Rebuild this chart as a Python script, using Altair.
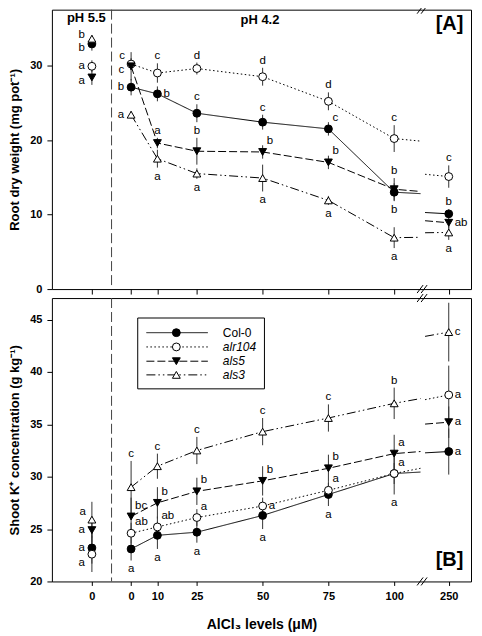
import altair as alt
import pandas as pd

# ---------------- data ----------------
series = ["Col-0", "alr104", "als5", "als3"]
ph_values = [5.5, 4.2, 4.2, 4.2, 4.2, 4.2, 4.2, 4.2]
al_levels = [0, 0, 10, 25, 50, 75, 100, 250]
x_tick_labels = ["0", "0", "10", "25", "50", "75", "100", "250"]

# Panel A: root dry weight (mg pot-1)
root_col0 = [32.9, 27.1, 26.2, 23.6, 22.4, 21.5, 13.0, 10.1]
root_alr104 = [29.9, 30.2, 29.0, 29.6, 28.5, 25.2, 20.2, 15.1]
root_als5 = [28.4, 29.9, 19.6, 18.5, 18.4, 17.0, 13.4, 8.9]
root_als3 = [33.6, 23.4, 17.5, 15.5, 14.9, 11.9, 6.9, 7.6]
root_col0_se = [0.9, 1.1, 1.0, 1.2, 1.0, 0.9, 1.2, 0.6]
root_alr104_se = [0.8, 0.8, 1.3, 0.8, 1.2, 1.2, 1.8, 1.5]
root_als5_se = [1.0, 1.9, 0.7, 1.8, 0.9, 0.9, 1.5, 0.8]
root_als3_se = [0.5, 0.5, 1.2, 0.7, 1.8, 0.6, 1.4, 1.0]
root_col0_sig = ["b", "b", "b", "c", "c", "c", "b", "b"]
root_alr104_sig = ["a", "c", "c", "d", "d", "d", "c", "c"]
root_als5_sig = ["a", "c", "a", "b", "b", "b", "b", "ab"]
root_als3_sig = ["b", "a", "a", "a", "a", "a", "a", "a"]

# Panel B: shoot K+ concentration (g kg-1)
k_col0 = [23.2, 23.1, 24.4, 24.7, 26.3, 28.3, 30.3, 32.4]
k_alr104 = [22.6, 24.6, 25.2, 26.1, 27.2, 28.7, 30.3, 37.8]
k_als5 = [24.9, 26.2, 27.5, 28.6, 29.6, 30.8, 32.2, 35.2]
k_als3 = [25.9, 29.0, 31.0, 32.5, 34.3, 35.6, 37.0, 43.8]
k_col0_se = [1.5, 1.1, 1.3, 1.0, 1.3, 1.1, 2.0, 2.2]
k_alr104_se = [1.7, 1.0, 1.0, 0.8, 0.8, 0.8, 1.0, 2.8]
k_als5_se = [1.2, 1.8, 1.5, 1.3, 1.4, 1.3, 1.8, 1.5]
k_als3_se = [1.7, 2.5, 1.2, 1.3, 1.3, 1.3, 1.5, 2.8]
k_col0_sig = ["a", "a", "a", "a", "a", "a", "a", "a"]
k_alr104_sig = ["a", "ab", "ab", "a", "a", "a", "a", "a"]
k_als5_sig = ["a", "bc", "b", "b", "b", "b", "a", "a"]
k_als3_sig = ["a", "c", "c", "c", "c", "c", "b", "c"]

# where each significance letter sits relative to its point
root_col0_at = ["left_lo", "left", "right", "above", "above", "upright", "below", "above"]
root_alr104_at = ["left", "upleft", "above", "above", "above", "above", "above", "above"]
root_als5_at = ["left_lo", "left_lo", "above", "above", "upright", "upright", "above", "right"]
root_als3_at = ["left_hi", "left", "below", "below", "below", "below", "below", "below"]
k_col0_at = ["left", "below", "below", "below", "below", "below", "below", "right"]
k_alr104_at = ["downleft", "upright", "upright", "upright", "right", "upright", "upright", "right"]
k_als5_at = ["left", "upright", "upright", "upright", "upright", "upright", "upright", "right"]
k_als3_at = ["upleft", "above", "above", "above", "above", "above", "above", "right"]

# ---------------- broken axis helpers ----------------
PH55_POS = -14.9
SEP_POS = -7.43
BREAK_LO = 110.0
BREAK_HI = 241.0
BREAK_SHIFT = 129.26
X_DOMAIN = [-30.1, 129.2]


def to_pos(ph, al):
    if ph == 5.5:
        return PH55_POS
    if al <= BREAK_LO:
        return al
    return al - BREAK_SHIFT


def points_df(means, errs, sigs, places):
    rows = []
    for s in series:
        for i, (ph, al) in enumerate(zip(ph_values, al_levels)):
            m, e = means[s][i], errs[s][i]
            rows.append(dict(series=s, pos=to_pos(ph, al), mean=m, lo=m - e,
                             hi=m + e, sig=sigs[s][i], place=places[s][i]))
    return pd.DataFrame(rows)


def lines_df(means):
    rows = []
    for s in series:
        pts = [(al, v) for ph, al, v in zip(ph_values, al_levels, means[s]) if ph == 4.2]
        left = [(a, v) for a, v in pts if a <= BREAK_LO]
        right = [(a, v) for a, v in pts if a >= BREAK_HI]
        (a0, v0), (a1, v1) = left[-1], right[0]

        def f(a):
            return v0 + (v1 - v0) * (a - a0) / (a1 - a0)

        seg1 = left + [(BREAK_LO, f(BREAK_LO))]
        seg2 = [(BREAK_HI, f(BREAK_HI))] + right
        for k, (a, v) in enumerate(seg1):
            rows.append(dict(series=s, seg=s + "1", order=k, pos=a, mean=v))
        for k, (a, v) in enumerate(seg2):
            rows.append(dict(series=s, seg=s + "2", order=k, pos=a - BREAK_SHIFT, mean=v))
    return pd.DataFrame(rows)


dash_range = [[1, 0], [1.5, 2.5], [8, 3], [9, 3, 1.5, 3, 1.5, 3]]
shape_range = ["circle", "circle", "triangle-down", "triangle-up"]
fill_range = ["black", "white", "black", "white"]

FONT = "Liberation Sans"

tick_vals = [to_pos(ph, al) for ph, al in zip(ph_values, al_levels)]
expr = "''"
for v, lab in zip(reversed(tick_vals), reversed(x_tick_labels)):
    expr = f"abs(datum.value - ({v})) < 0.01 ? '{lab}' : ({expr})"

placements = {
    "above": ("hi", 0, -7, "center"),
    "below": ("lo", 0, 9, "center"),
    "left": ("mean", -7, 0, "right"),
    "left_hi": ("mean", -7, -4, "right"),
    "left_lo": ("mean", -7, 4, "right"),
    "right": ("mean", 6, 0, "left"),
    "upright": ("mean", 4, -11, "left"),
    "upleft": ("mean", -6, -8, "right"),
    "downleft": ("mean", -7, 9, "right"),
}


def one(text):
    return alt.Chart(pd.DataFrame({"label": [text]}))


def panel(pdf, ldf, ydomain, yticks, ytitle, height, xaxis, tag, tag_y, extra):
    xs = alt.Scale(domain=X_DOMAIN, nice=False, zero=False)
    ys = alt.Scale(domain=ydomain, nice=False, zero=False)
    x_enc = alt.X("pos:Q", scale=xs, axis=xaxis)
    y_enc = alt.Y("mean:Q", scale=ys,
                  axis=alt.Axis(values=yticks, title=ytitle, titlePadding=8,
                                labelPadding=5))
    base = alt.Chart(pdf)
    frame = base.mark_point(opacity=0).encode(x=x_enc, y=y_enc)
    sep = alt.Chart(pd.DataFrame({"p": [SEP_POS]})).mark_rule(
        strokeDash=[10, 4], color="#444", strokeWidth=1).encode(
        x=alt.X("p:Q", scale=xs))
    err = base.mark_rule(color="#333", strokeWidth=1).encode(
        x=alt.X("pos:Q", scale=xs), y=alt.Y("lo:Q", scale=ys), y2="hi:Q")
    lines = alt.Chart(ldf).mark_line(color="black", strokeWidth=1).encode(
        x=alt.X("pos:Q", scale=xs), y=alt.Y("mean:Q", scale=ys),
        detail="seg:N", order="order:Q",
        strokeDash=alt.StrokeDash("series:N", scale=alt.Scale(domain=series, range=dash_range),
                                  legend=None))
    pts = base.mark_point(filled=True, stroke="black", strokeWidth=1, size=62, opacity=1).encode(
        x=alt.X("pos:Q", scale=xs), y=alt.Y("mean:Q", scale=ys),
        shape=alt.Shape("series:N", scale=alt.Scale(domain=series, range=shape_range), legend=None),
        fill=alt.Fill("series:N", scale=alt.Scale(domain=series, range=fill_range), legend=None))
    texts = []
    for name, (yf, dx, dy, al) in placements.items():
        texts.append(base.transform_filter(alt.datum.place == name).mark_text(
            font=FONT, fontSize=11.5, dx=dx, dy=dy, align=al, baseline="middle",
            fill="black").encode(
            x=alt.X("pos:Q", scale=xs), y=alt.Y(f"{yf}:Q", scale=ys), text="sig:N"))
    tag_t = one(tag).mark_text(font=FONT, fontSize=20, fontWeight="bold", align="center",
                               baseline="middle").encode(
        x=alt.value(398.5), y=alt.value(tag_y), text="label:N")
    # break marks "//" on top and bottom frame
    brk = []
    for yb in [0, height]:
        for x0 in [366, 370]:
            brk.append(one("").mark_rule(color="black", strokeWidth=1).encode(
                x=alt.value(x0), x2=alt.value(x0 + 6), y=alt.value(yb + 4), y2=alt.value(yb - 4)))
    layers = [frame, sep, err, lines, pts] + texts + [tag_t] + brk + extra
    return alt.layer(*layers).properties(width=420, height=height)


def mk(vals):
    return dict(zip(series, vals))


dfA = points_df(mk([root_col0, root_alr104, root_als5, root_als3]),
                mk([root_col0_se, root_alr104_se, root_als5_se, root_als3_se]),
                mk([root_col0_sig, root_alr104_sig, root_als5_sig, root_als3_sig]),
                mk([root_col0_at, root_alr104_at, root_als5_at, root_als3_at]))
lnA = lines_df(mk([root_col0, root_alr104, root_als5, root_als3]))
dfB = points_df(mk([k_col0, k_alr104, k_als5, k_als3]),
                mk([k_col0_se, k_alr104_se, k_als5_se, k_als3_se]),
                mk([k_col0_sig, k_alr104_sig, k_als5_sig, k_als3_sig]),
                mk([k_col0_at, k_alr104_at, k_als5_at, k_als3_at]))
lnB = lines_df(mk([k_col0, k_alr104, k_als5, k_als3]))

axisA = alt.Axis(values=tick_vals, labels=False, title=None, ticks=True, tickSize=5)
axisB = alt.Axis(values=tick_vals, labelExpr=expr, title="AlCl\u2083 levels (\u03bcM)",
                 ticks=True, tickSize=4, labelPadding=5, titlePadding=16, titleFontSize=14)

ph_texts = [
    one("pH 5.5").mark_text(font=FONT, fontSize=13, fontWeight="bold").encode(
        x=alt.value(34.5), y=alt.value(8), text="label:N"),
    one("pH 4.2").mark_text(font=FONT, fontSize=13, fontWeight="bold").encode(
        x=alt.value(208.5), y=alt.value(10), text="label:N"),
]

# manual legend for panel B
leg = [one("").mark_rect(fill="white", stroke="black", strokeWidth=1).encode(
    x=alt.value(86), x2=alt.value(213), y=alt.value(20), y2=alt.value(91))]
leg_rows = [34.7, 49.0, 63.3, 77.0]
for s, yr, dash, shp, fl in zip(series, leg_rows, dash_range, shape_range, fill_range):
    leg.append(one(s).mark_rule(color="black", strokeWidth=1, strokeDash=dash).encode(
        x=alt.value(94.7), x2=alt.value(156.3), y=alt.value(yr)))
    leg.append(one(s).mark_point(shape=shp, filled=True, fill=fl, stroke="black",
                                 strokeWidth=1, size=62, opacity=1).encode(
        x=alt.value(124.7), y=alt.value(yr)))
    leg.append(one(s).mark_text(font=FONT, fontSize=12, align="left", baseline="middle",
                                fontStyle="normal" if s == "Col-0" else "italic").encode(
        x=alt.value(171.3), y=alt.value(yr), text="label:N"))

chartA = panel(dfA, lnA, [0, 37.5], list(range(0, 36, 5)),
               "Root dry weight (mg pot\u207b\u00b9)", 280, axisA, "[A]", 14, ph_texts)
chartB = panel(dfB, lnB, [20, 47.05], list(range(20, 46, 5)),
               "Shoot K\u207a concentration (g kg\u207b\u00b9)", 284, axisB, "[B]", 263, leg)

chart = alt.vconcat(chartA, chartB, spacing=9, bounds="flush").properties(
    padding={"left": 0, "top": -4, "right": 2, "bottom": 0}
).configure_view(stroke="black", strokeWidth=1).configure_axis(
    labelFont=FONT, titleFont=FONT, labelFontWeight="bold", titleFontWeight="bold",
    labelFontSize=11, titleFontSize=13, labelColor="black", titleColor="black",
    tickColor="black", grid=False, domain=False
).configure_text(font=FONT)

chart.save("out.html", embed_options={"renderer": "svg", "actions": False})
